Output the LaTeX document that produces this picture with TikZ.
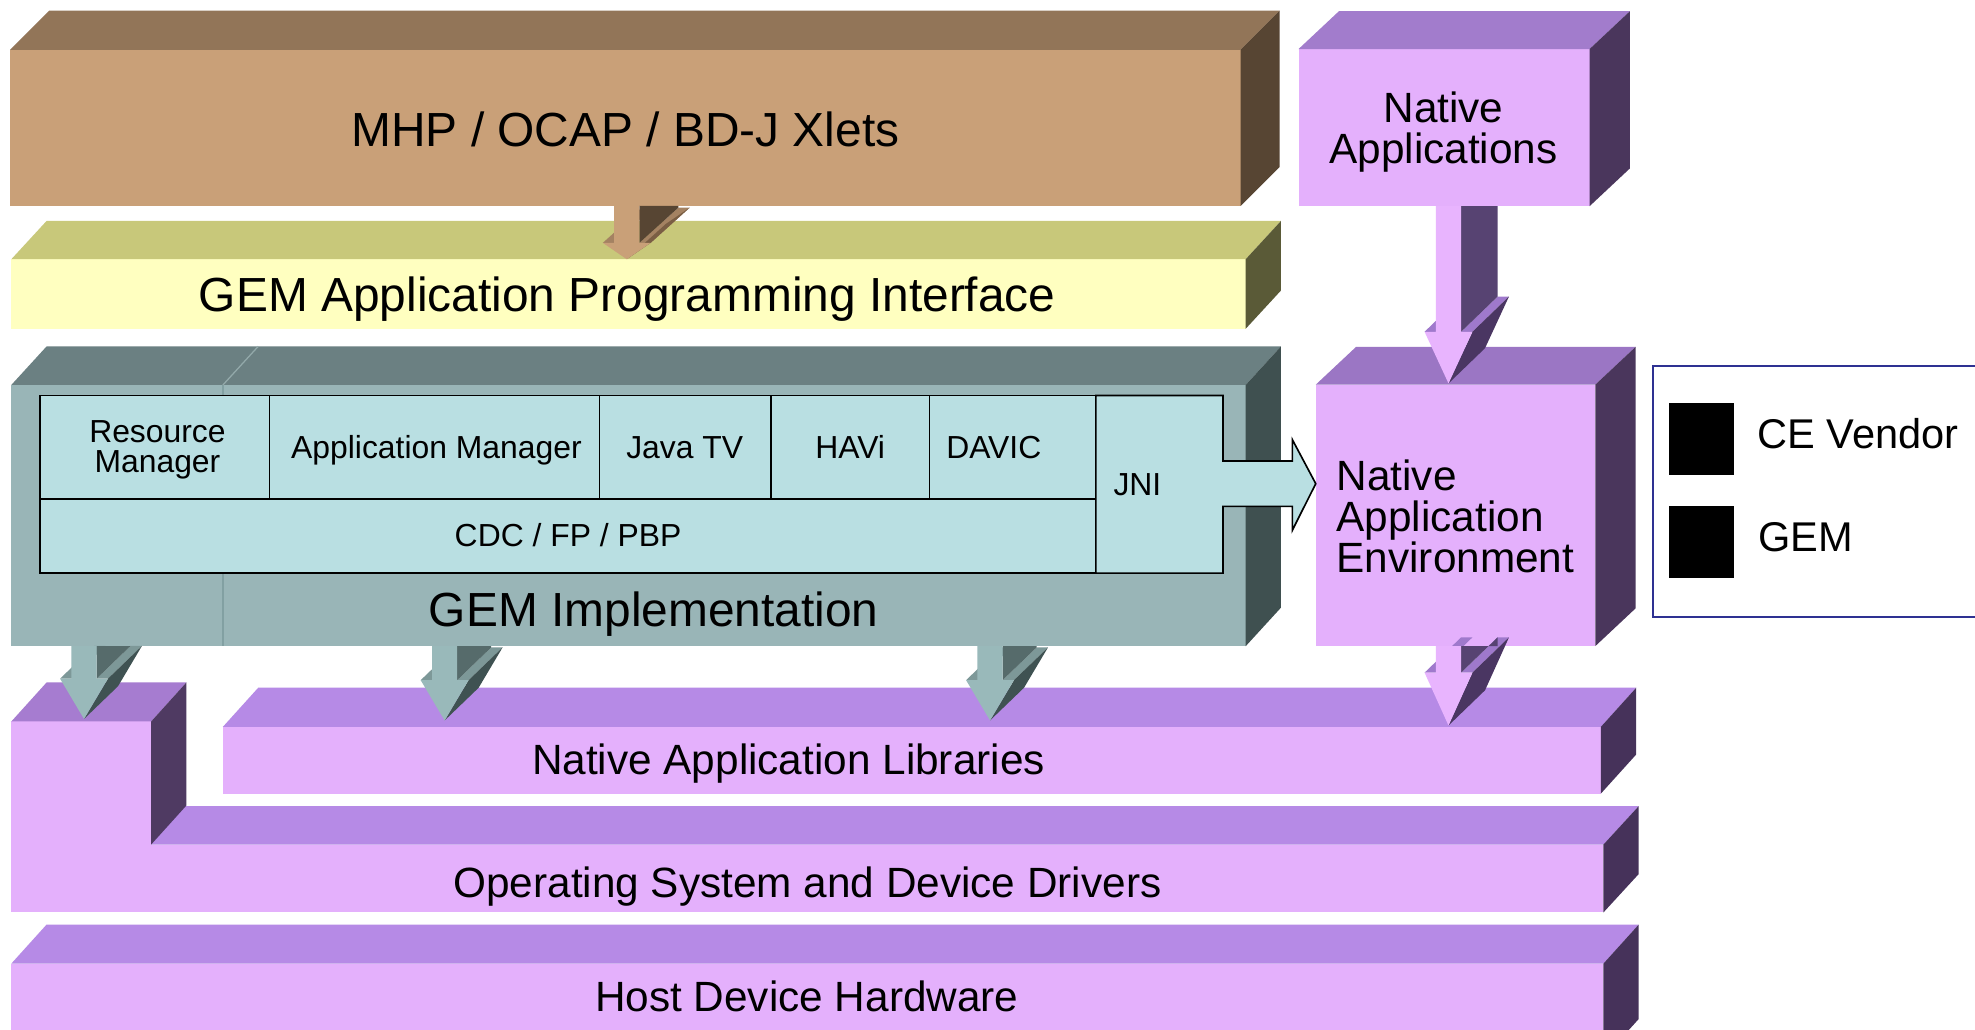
\documentclass[tikz,border=0pt]{standalone}
\usepackage{fontspec}
\setmainfont{Liberation Sans}
\usetikzlibrary{calc}
% box palettes: F front, T top, S side
\definecolor{brF}{HTML}{C9A078}\definecolor{brT}{HTML}{927558}\definecolor{brS}{HTML}{574533}
\definecolor{yeF}{HTML}{FFFFC0}\definecolor{yeT}{HTML}{C8C87A}\definecolor{yeS}{HTML}{5A5A37}
\definecolor{gyF}{HTML}{99B5B7}\definecolor{gyT}{HTML}{6B8082}\definecolor{gyS}{HTML}{3F5050}
\definecolor{naF}{HTML}{E4B0FC}\definecolor{naT}{HTML}{A27CCC}\definecolor{naS}{HTML}{4A365C}
\definecolor{neF}{HTML}{E4B0FC}\definecolor{neT}{HTML}{9B76C4}\definecolor{neS}{HTML}{4A365C}
\definecolor{loF}{HTML}{E4B0FC}\definecolor{loT}{HTML}{B68AE6}\definecolor{loS}{HTML}{46325A}
\definecolor{smF}{HTML}{E4B0FC}\definecolor{smT}{HTML}{A67CD0}\definecolor{smS}{HTML}{4F3A62}
\definecolor{cyF}{HTML}{B9DFE2}
\definecolor{gyLine}{HTML}{82A0A2}\definecolor{gyTLine}{HTML}{93A9AA}
\definecolor{lgB}{HTML}{2E3192}
% arrow palettes: F front, S shaft side, T shoulder top, H head side
\definecolor{brAF}{HTML}{C9A078}\definecolor{brAS}{HTML}{574533}\definecolor{brAT}{HTML}{A48262}\definecolor{brAH}{HTML}{7A5E44}
\definecolor{gyAF}{HTML}{99B9BA}\definecolor{gyAS}{HTML}{566B6B}\definecolor{gyAT}{HTML}{7D9898}\definecolor{gyAH}{HTML}{3F5252}
\definecolor{pkAF}{HTML}{E8B4FE}\definecolor{pkAS}{HTML}{574372}\definecolor{pkAT}{HTML}{9F79CC}\definecolor{pkAH}{HTML}{4A3662}
\tikzset{
  face/.style={inner sep=0pt, outer sep=0pt, anchor=north west},
  inbox/.style={draw=black, line width=1.3pt, fill=cyF, line join=miter},
  lblb/.style={font=\fontsize{38}{38}\selectfont, inner sep=0pt, anchor=base},
  lblm/.style={font=\fontsize{33.6}{32.5}\selectfont, inner sep=0pt},
  lbll/.style={font=\fontsize{33}{33}\selectfont, inner sep=0pt},
  lbls/.style={font=\fontsize{25.3}{23.5}\selectfont, inner sep=0pt},
}
% \cuboid{name}{x1}{y1}{x2}{y2}{palette}{dx}{dy}
\newcommand{\cuboid}[8]{%
  \node[face, fill=#6F, minimum width={#4-#2}, minimum height={#5-#3}] (#1) at (#2,#3) {};
  \fill[#6T] (#1.north west) -- ++(#7,-#8) -- ($(#1.north east)+(#7,-#8)$) -- (#1.north east) -- cycle;
  \fill[#6S] (#1.north east) -- ++(#7,-#8) -- ($(#1.south east)+(#7,-#8)$) -- (#1.south east) -- cycle;
}
% \blockarrow{x}{upper node}{lower node}{tip raise}{head length}{palette}{dx}{dy}
\newcommand{\blockarrow}[8]{%
  \coordinate (ba-t) at ($(#1,0 |- #3.north)+(0,-#4)$);
  \coordinate (ba-tl) at ($(#1,0 |- #2.south)+(-10,0)$);
  \coordinate (ba-tr) at ($(#1,0 |- #2.south)+(10,0)$);
  \coordinate (ba-sl) at ($(ba-t)+(-10,-#5)$);
  \coordinate (ba-sr) at ($(ba-t)+(10,-#5)$);
  \coordinate (ba-hl) at ($(ba-t)+(-19,-#5)$);
  \coordinate (ba-hr) at ($(ba-t)+(19,-#5)$);
  \fill[#6T] (ba-hl) -- (ba-sl) -- ++(#7,-#8) -- ($(ba-hl)+(#7,-#8)$) -- cycle;
  \fill[#6T] (ba-sr) -- (ba-hr) -- ++(#7,-#8) -- ($(ba-sr)+(#7,-#8)$) -- cycle;
  \fill[#6H] (ba-hr) -- ++(#7,-#8) -- ($(ba-t)+(#7,-#8)$) -- (ba-t) -- cycle;
  \fill[#6S] (ba-tr) -- ++(#7,0) -- ($(ba-sr)+(#7,-#8)$) -- (ba-sr) -- cycle;
  \fill[#6F] (ba-tl) -- (ba-tr) -- (ba-sr) -- (ba-hr) -- (ba-t) -- (ba-hl) -- (ba-sl) -- cycle;
}
\begin{document}
\begin{tikzpicture}[x=1pt,y=-1pt]
\useasboundingbox (0,0) rectangle (1568,817);
\fill[white] (0,0) rectangle (1568,817);

% ---- lower layers
\cuboid{hdh}{9}{765}{1273}{840}{lo}{28}{31}
\cuboid{os}{9}{670.5}{1273}{724.4}{lo}{28}{30.5}
\cuboid{small}{9}{572.8}{120}{670.5}{sm}{28}{31}
\cuboid{nal}{177}{577}{1271}{630}{lo}{28}{31}
\cuboid{nae}{1044.6}{305.4}{1266.5}{513}{ne}{32}{30}

% ---- GEM implementation
\cuboid{gemimpl}{9}{305.6}{989}{513}{gy}{28}{30.6}
\draw[gyLine, line width=1pt] (177,305.6) -- (177,513);
\draw[gyTLine, line width=1pt] (177,305.6) -- ++(28,-30.6);

\node[inbox, face, minimum width=182, minimum height=82] (rm) at (32,314) {};
\node[inbox, face, minimum width=262, minimum height=82] (am) at (214,314) {};
\node[inbox, face, minimum width=136, minimum height=82] (jtv) at (476,314) {};
\node[inbox, face, minimum width=126, minimum height=82] (havi) at (612,314) {};
\node[inbox, face, minimum width=132, minimum height=82] (davic) at (738,314) {};
\node[inbox, face, minimum width=838, minimum height=59] (cdc) at (32,396) {};
\filldraw[inbox] (870,314) -- (971,314) -- (971,366) -- (1026,366) -- (1026,349)
  -- (nae.north west |- 0,384) -- (1026,421) -- (1026,402) -- (971,402)
  -- (971,455) -- (870,455) -- cycle;

\node[lbls, align=center] (t-rm) at (125,356.9) {Resource\\Manager};
\node[lbls, anchor=base] (t-am) at (346.5,364) {Application Manager};
\node[lbls, anchor=base] (t-jtv) at (543.6,364) {Java TV};
\node[lbls, anchor=base] (t-havi) at (675,364) {HAVi};
\node[lbls, anchor=base] (t-davic) at (789,364) {DAVIC};
\node[lbls, anchor=base] (t-cdc) at (451,434) {CDC / FP / PBP};
\node[lbls, anchor=base] (t-jni) at (903,393) {JNI};

% ---- upper layers
\cuboid{gemapi}{9}{205.8}{989}{261}{ye}{28}{30.4}
\cuboid{xlets}{8}{39.5}{985}{163.5}{br}{31}{31}
\cuboid{natapps}{1031}{38.9}{1262}{163.7}{na}{32}{30}

% ---- 3D arrows
\blockarrow{497.6}{xlets}{gemapi}{0}{13}{brA}{31}{28}
\blockarrow{1150}{natapps}{nae}{1}{41}{pkA}{29}{28}
\blockarrow{66.7}{gemimpl}{small}{2}{32}{gyA}{27}{26}
\blockarrow{353}{gemimpl}{nal}{5}{32}{gyA}{27}{26}
\blockarrow{786}{gemimpl}{nal}{5}{32}{gyA}{27}{26}
\blockarrow{1150}{nae}{nal}{1}{42}{pkA}{29}{28}

% ---- labels
\node[lblb] (t-xlets) at (496.5,116.4) {MHP / OCAP / BD-J Xlets};
\node[lblb] (t-api) at (498,247.4) {GEM Application Programming Interface};
\node[lblb] (t-impl) at (519,497.6) {GEM Implementation};
\node[lblm, align=center] (t-natapps) at (1146,105) {Native\\Applications};
\node[lblm, align=left, anchor=west] (t-nae) at (1061,410.2) {Native\\Application\\Environment};
\node[lblm, anchor=base] (t-nal) at (626,615) {Native Application Libraries};
\node[lblm, anchor=base] (t-os) at (641,712.9) {Operating System and Device Drivers};
\node[lblm, anchor=base] (t-hdh) at (640.5,803) {Host Device Hardware};

% ---- legend
\node[face, draw=lgB, line width=1.2pt, minimum width=270, minimum height=199.4] (legend) at (1312.5,290.6) {};
\node[face, fill=black, minimum width=52, minimum height=57] (sqce) at (1325,320) {};
\node[face, fill=black, minimum width=52, minimum height=57.4] (sqgem) at (1325,401.4) {};
\node[lbll, anchor=base west] (t-ce) at (1395,356) {CE Vendor};
\node[lbll, anchor=base west] (t-gem) at (1396,437.6) {GEM};
\end{tikzpicture}
\end{document}
